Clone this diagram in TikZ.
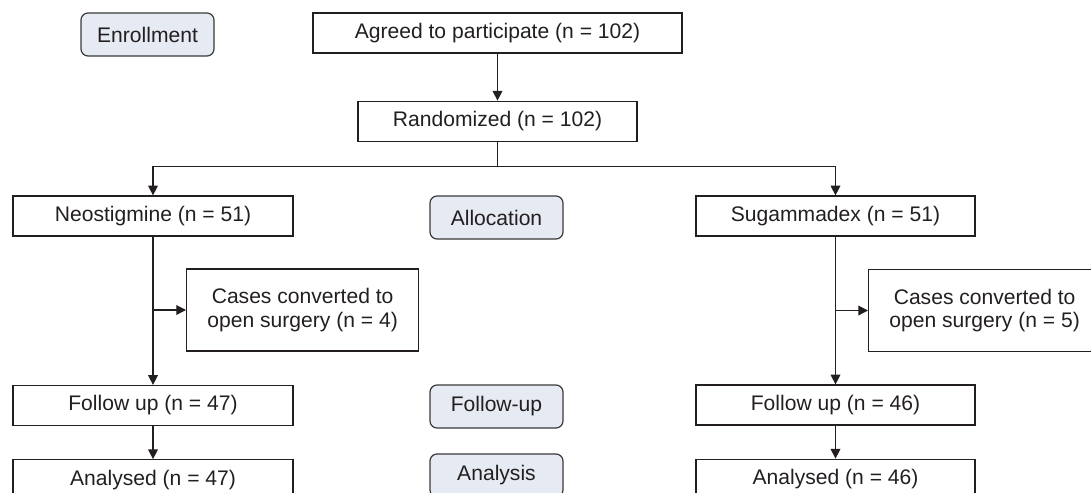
\documentclass[tikz,border=0pt]{standalone}
\usepackage{fontspec}
\setmainfont{Liberation Sans}
\usepackage{xcolor}
\usepackage{tikz}
\usetikzlibrary{arrows.meta, positioning, calc}
\definecolor{lineink}{HTML}{231F20}
\definecolor{stagefill}{HTML}{E6EAF2}
\definecolor{stageedge}{HTML}{3A3A3A}

\begin{document}
\begin{tikzpicture}[
  every node/.style={font=\fontsize{12}{13.5}\selectfont, text=lineink},
  flowbox/.style={rectangle, draw=lineink, line width=0.7pt,
              minimum height=0.8cm, inner sep=3pt, align=center},
  stagebox/.style={rectangle, rounded corners=4pt, draw=stageedge, fill=stagefill,
              line width=0.7pt, minimum width=2.66cm, minimum height=0.86cm},
  flowarrow/.style={-{Triangle[length=5.5pt, width=5.5pt]}, line width=0.7pt, draw=lineink},
]
  \useasboundingbox (0,0) rectangle (21.82,-9.84);
  \clip (0,0) rectangle (21.82,-9.84);

  % stage labels
  \node[stagebox] (enrol)  at (2.95,-0.69) {Enrollment};
  \node[stagebox] (alloc)  at (9.93,-4.35) {Allocation};
  \node[stagebox] (follow) at (9.93,-8.13) {Follow-up};
  \node[stagebox] (analys) at (9.93,-9.51) {Analysis};

  \node[flowbox, minimum width=7.38cm] (agreed) at (9.95,-0.66) {Agreed to participate (n = 102)};
  \node[flowbox, minimum width=5.58cm, below=0.94cm of agreed] (rand) {Randomized (n = 102)};

  \node[flowbox, minimum width=5.6cm] (neo) at (3.06,-4.32) {Neostigmine (n = 51)};
  \node[flowbox, minimum width=5.58cm] (sug) at (16.71,-4.32) {Sugammadex (n = 51)};

  \node[flowbox, minimum width=4.64cm, minimum height=1.64cm, anchor=west] (convneo)
    at (3.72,-6.2) {Cases converted to\\open surgery (n = 4)};
  \node[flowbox, minimum width=4.64cm, minimum height=1.64cm, anchor=west] (convsug)
    at (17.36,-6.21) {Cases converted to\\open surgery (n = 5)};

  \node[flowbox, minimum width=5.6cm] (fupneo) at (3.06,-8.11) {Follow up (n = 47)};
  \node[flowbox, minimum width=5.58cm] (fupsug) at (16.71,-8.1) {Follow up (n = 46)};
  \node[flowbox, minimum width=5.6cm, below=0.66cm of fupneo] (anneo) {Analysed (n = 47)};
  \node[flowbox, minimum width=5.58cm, below=0.66cm of fupsug] (ansug) {Analysed (n = 46)};

  \draw[flowarrow] (agreed) -- (rand);
  \draw[lineink, line width=0.7pt] (rand.south) -- ++(0,-0.5) coordinate (split);
  \draw[flowarrow] (split) -| (neo.north);
  \draw[flowarrow] (split) -| (sug.north);

  \draw[flowarrow] (neo) -- (fupneo);
  \draw[flowarrow] (neo.south |- convneo.west) -- (convneo.west);
  \draw[flowarrow] (fupneo) -- (anneo);

  \draw[flowarrow] (sug) -- (fupsug);
  \draw[flowarrow] (sug.south |- convsug.west) -- (convsug.west);
  \draw[flowarrow] (fupsug) -- (ansug);
\end{tikzpicture}
\end{document}
